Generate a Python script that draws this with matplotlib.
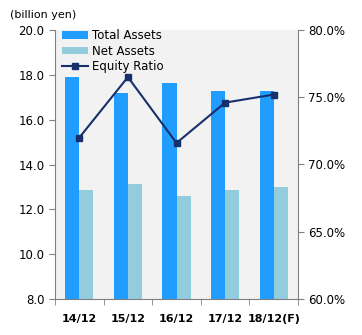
import matplotlib
matplotlib.use("Agg")
import matplotlib.pyplot as plt
import numpy as np
from matplotlib.ticker import FuncFormatter, FixedLocator

categories = ["14/12", "15/12", "16/12", "17/12", "18/12(F)"]
total_assets = [17.9, 17.2, 17.63, 17.29, 17.29]
net_assets = [12.86, 13.12, 12.59, 12.86, 12.99]
equity_ratio = [72.0, 76.5, 71.6, 74.6, 75.2]

plt.rcParams['font.family'] = ['DejaVu Sans']

fig = plt.figure(figsize=(3.62, 3.35), dpi=100)
ax = fig.add_axes([55/362, 1-299/335, 243/362, 269/335])
ax.set_facecolor('#f2f2f2')
x = np.arange(len(categories))
w = 0.29
ax.bar(x - w/2, total_assets, w, color='#219dff', label='Total Assets', zorder=2)
ax.bar(x + w/2, net_assets, w, color='#93cddd', label='Net Assets', zorder=2)
ax.set_ylim(8, 20)
ax.set_xlim(-0.5, len(categories)-0.5)
ax.set_yticks(np.arange(8, 20.1, 2))
ax.yaxis.set_major_formatter(FuncFormatter(lambda v, p: f"{v:.1f}"))
ax.set_xticks(x)
ax.set_xticklabels(categories, fontweight='bold', fontsize=8)
ax.xaxis.set_minor_locator(FixedLocator(np.arange(-0.5, len(categories), 1)))
ax.tick_params(axis='x', which='major', length=0, pad=11)
ax.tick_params(axis='x', which='minor', length=4, color='#808080')
ax.tick_params(axis='y', length=4, color='#808080', labelsize=8.5)

ax2 = ax.twinx()
ax2.plot(x, equity_ratio, color='#17306b', marker='s', markersize=4, linewidth=1.5, label='Equity Ratio', zorder=3)
ax2.set_ylim(60, 80)
ax2.set_yticks(np.arange(60, 80.1, 5))
ax2.yaxis.set_major_formatter(FuncFormatter(lambda v, p: f"{v:.1f}%"))
ax2.tick_params(axis='y', length=4, color='#808080', labelsize=8.5)

for a in (ax, ax2):
    for s in a.spines.values():
        s.set_visible(False)
ax.spines['left'].set_visible(True)
ax.spines['left'].set_color('#808080')
ax.spines['bottom'].set_visible(True)
ax.spines['bottom'].set_color('#808080')
ax2.spines['right'].set_visible(True)
ax2.spines['right'].set_color('#808080')

h1, l1 = ax.get_legend_handles_labels()
h2, l2 = ax2.get_legend_handles_labels()
ax2.legend(h1 + h2, l1 + l2, loc='upper left', bbox_to_anchor=(0.0, 1.03), frameon=False,
           fontsize=8.5, handlelength=2.2, handleheight=0.6, labelspacing=0.22,
           handletextpad=0.3, borderaxespad=0.2)

fig.text(10/362, 1-15/335, "(billion yen)", fontsize=8, va='center', ha='left')
fig.savefig("out.png", dpi=100)
